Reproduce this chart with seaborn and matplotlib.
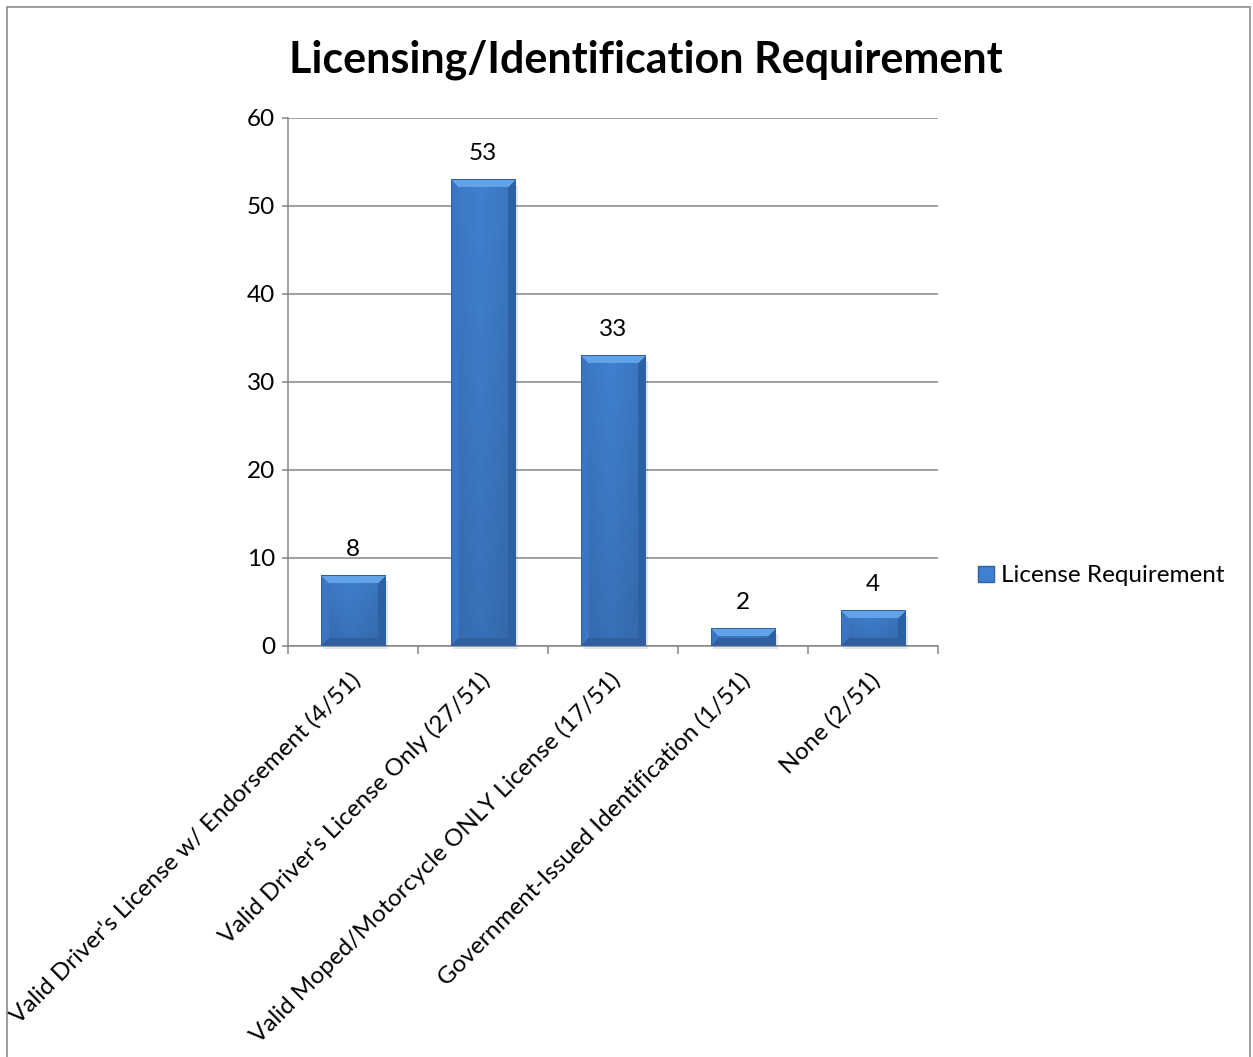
import matplotlib
matplotlib.use("Agg")
import matplotlib.pyplot as plt
import matplotlib.patches as mpatches
import matplotlib.transforms as mtransforms
import seaborn as sns
import numpy as np
import pandas as pd

categories = [
    "Valid Driver's License w/ Endorsement (4/51)",
    "Valid Driver's License Only (27/51)",
    "Valid Moped/Motorcycle ONLY License (17/51)",
    "Government-Issued Identification (1/51)",
    "None (2/51)",
]
values = [8, 53, 33, 2, 4]
series_name = "License Requirement"
title = "Licensing/Identification Requirement"
y_ticks = [0, 10, 20, 30, 40, 50, 60]

FONT = ["Lato", "DejaVu Sans"]
GRID = "#868686"
FACE = np.array([0x40, 0x80, 0xd0]) / 255.0
FS = 17.5


def bevel_image(w, h, bevel=8):
    """RGB image imitating Excel's bevelled bar face."""
    w = max(int(w), 2)
    h = max(int(h), 2)
    xx, yy = np.meshgrid(np.arange(w), np.arange(h))
    dx_l = xx
    dx_r = w - 1 - xx
    dy_t = yy
    dy_b = h - 1 - yy
    u = xx / (w - 1)
    shade = 1.0 - 0.08 * np.abs(u - 0.45) * 2
    vert = 1.0 - 0.12 * (yy / max(h - 1, 1))
    img = FACE[None, None, :] * (shade * vert)[:, :, None]
    top = (dy_t < bevel) & (dy_t <= dx_l) & (dy_t <= dx_r)
    bot = (dy_b < bevel) & (dy_b <= dx_l) & (dy_b <= dx_r) & ~top
    left = (dx_l < bevel) & ~top & ~bot & (dx_l <= dx_r)
    right = (dx_r < bevel) & ~top & ~bot & ~left
    img[top] = np.array([0x62, 0xa2, 0xe8]) / 255.0
    img[left] = np.array([0x3a, 0x76, 0xc4]) / 255.0
    img[right] = np.array([0x2e, 0x60, 0xa4]) / 255.0
    img[bot] = np.array([0x30, 0x5e, 0x9e]) / 255.0
    edge = (dx_l < 1) | (dx_r < 1) | (dy_t < 1) | (dy_b < 1)
    img[edge] = np.array([0x30, 0x62, 0xa2]) / 255.0
    return np.clip(img, 0, 1)


sns.set_theme(style="white")
plt.rcParams["font.family"] = FONT
plt.rcParams["text.color"] = "black"
plt.rcParams["xtick.color"] = "black"
plt.rcParams["ytick.color"] = "black"

df = pd.DataFrame({"category": categories, "value": values})

fig = plt.figure(figsize=(12.53, 10.57), dpi=100)
ax = fig.add_axes([288 / 1253, 1 - 646 / 1057, 650 / 1253, 528 / 1057])

sns.barplot(data=df, x="category", y="value", color=FACE, width=0.5,
            ax=ax, saturation=1)

ax.set_ylim(0, 60)
ax.set_xlim(-0.5, len(categories) - 0.5)
ax.set_yticks(y_ticks)
ax.yaxis.grid(True, color=GRID, linewidth=1.1)
ax.set_axisbelow(True)
ax.set_xlabel("")
ax.set_ylabel("")
for s in ["top", "right"]:
    ax.spines[s].set_visible(False)
for s in ["left", "bottom"]:
    ax.spines[s].set_color(GRID)
    ax.spines[s].set_linewidth(1.1)

ax.tick_params(axis="y", which="major", direction="out", length=4.3, width=1.1,
               color=GRID, labelcolor="black", pad=5, labelsize=FS, left=True)
ax.set_xticks(np.arange(-0.5, len(categories)), minor=True)
ax.tick_params(axis="x", which="minor", direction="out", length=6, width=1.1,
               color=GRID, bottom=True)
ax.tick_params(axis="x", which="major", length=0, pad=22, labelsize=FS,
               labelcolor="black")
ax.set_xticklabels(categories, rotation=45, ha="right", va="center",
                   rotation_mode="anchor")
for lbl in ax.get_xticklabels():
    lbl.set_fontfamily(FONT)
    lbl.set_transform(lbl.get_transform() +
                      mtransforms.ScaledTranslation(4 / 100, 0, fig.dpi_scale_trans))

# bevel-shaded faces and value labels
fig.canvas.draw()
shadow_shift = mtransforms.ScaledTranslation(2 / 100, -3 / 100, fig.dpi_scale_trans)
for patch, v in zip(ax.patches, values):
    x0, y0 = patch.get_x(), patch.get_y()
    pw, ph = patch.get_width(), patch.get_height()
    p0 = ax.transData.transform((x0, y0))
    p1 = ax.transData.transform((x0 + pw, y0 + ph))
    img = bevel_image(p1[0] - p0[0], p1[1] - p0[1])
    patch.set_facecolor("none")
    patch.set_edgecolor("none")
    ax.add_patch(mpatches.Rectangle((x0, y0), pw, ph - 0.3,
                                    facecolor="#000000", alpha=0.10,
                                    edgecolor="none", zorder=2, clip_on=False,
                                    transform=ax.transData + shadow_shift))
    ax.imshow(img, extent=(x0, x0 + pw, y0, y0 + ph), aspect="auto",
              zorder=3, interpolation="nearest")
    ax.annotate(f"{v}", xy=(x0 + pw / 2, y0 + ph), xytext=(0, 19),
                textcoords="offset points", ha="center", va="center",
                fontsize=FS, color="black", family=FONT)

ax.set_xlim(-0.5, len(categories) - 0.5)
ax.set_ylim(0, 60)

fig.text(646 / 1253, 1 - 60 / 1057, title, ha="center", va="center",
         fontsize=31, fontweight="bold", family=FONT, color="black")

handle = mpatches.Patch(facecolor=FACE, edgecolor="#30629f", label=series_name)
fig.legend(handles=[handle], loc="center left",
           bbox_to_anchor=(978 / 1253, 1 - 576 / 1057), frameon=False,
           fontsize=FS, handlelength=0.65, handleheight=0.65,
           handletextpad=0.3, borderaxespad=0, borderpad=0)

# chart-area border
fig.add_artist(mpatches.Rectangle((7 / 1253, -0.01), 1243 / 1253, 1 - 7 / 1057 + 0.01,
                                  transform=fig.transFigure, fill=False,
                                  edgecolor="#8c8c8c", linewidth=1.2))

fig.savefig("out.png", dpi=100)
